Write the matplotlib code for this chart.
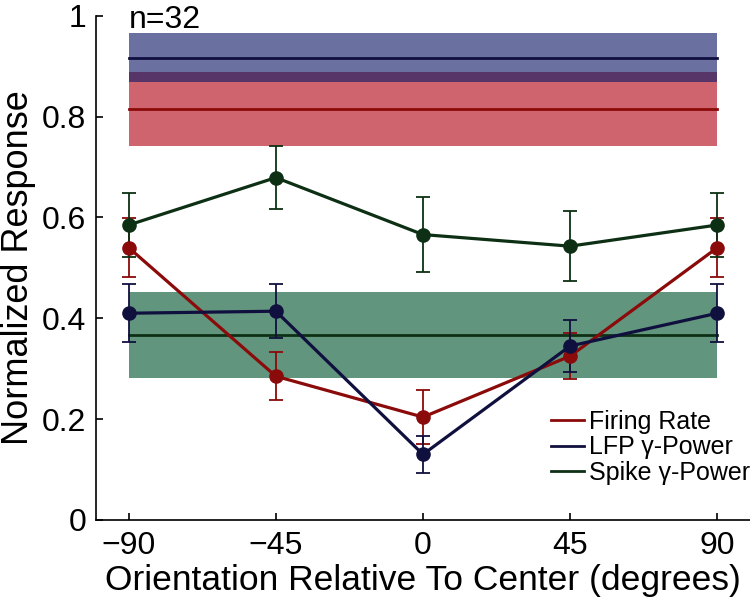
import matplotlib
matplotlib.use("Agg")
import matplotlib.pyplot as plt
import numpy as np

plt.rcParams['font.family'] = ['Liberation Sans', 'DejaVu Sans']

orientations = [-90, -45, 0, 45, 90]
firing_rate = [0.540, 0.285, 0.204, 0.325, 0.540]
firing_err = [0.058, 0.048, 0.053, 0.045, 0.058]
lfp_power = [0.410, 0.414, 0.130, 0.345, 0.410]
lfp_err = [0.058, 0.054, 0.037, 0.052, 0.058]
spike_power = [0.585, 0.679, 0.566, 0.543, 0.585]
spike_err = [0.064, 0.063, 0.074, 0.069, 0.064]

# center (reference) means and band half-widths
center_firing = 0.815
center_firing_err = 0.073
center_lfp = 0.917
center_lfp_err = 0.048
center_spike = 0.367
center_spike_err = 0.086

labels = ['Firing Rate', 'LFP \u03b3-Power', 'Spike \u03b3-Power']
line_colors = ['#8b0a0a', '#10103f', '#0d3014']
band_colors = ['#b30515', '#0e1866', '#02552d']

fig = plt.figure(figsize=(7.5, 6.06), dpi=100)
ax = fig.add_axes([0.128, 0.142, 0.872, 0.832])

xs = [orientations[0], orientations[-1]]
alpha = 0.62
# bands
ax.fill_between(xs, center_firing - center_firing_err, center_firing + center_firing_err,
                color=band_colors[0], alpha=alpha, lw=0, zorder=1)
ax.fill_between(xs, center_lfp - center_lfp_err, center_lfp + center_lfp_err,
                color=band_colors[1], alpha=alpha, lw=0, zorder=1)
ax.fill_between(xs, center_spike - center_spike_err, center_spike + center_spike_err,
                color=band_colors[2], alpha=alpha, lw=0, zorder=1)
ax.plot(xs, [center_firing] * 2, color=line_colors[0], lw=2.0, zorder=2)
ax.plot(xs, [center_lfp] * 2, color=line_colors[1], lw=2.0, zorder=2)
ax.plot(xs, [center_spike] * 2, color=line_colors[2], lw=2.0, zorder=2)

series = [(firing_rate, firing_err), (lfp_power, lfp_err), (spike_power, spike_err)]
handles = []
for (vals, errs), c, lab in zip(series, line_colors, labels):
    ax.errorbar(orientations, vals, yerr=errs, fmt='none', ecolor=c,
                elinewidth=1.3, capsize=5, capthick=1.3, zorder=3)
    ax.plot(orientations, vals, color=c, lw=2.3, marker='o', markersize=9.5,
            zorder=4)
    h, = ax.plot([], [], color=c, lw=2.0, label=lab)
    handles.append(h)

ax.set_xlim(-100, 100)
ax.set_ylim(0, 1)
ax.set_xticks(orientations)
ax.set_xticklabels(['\u221290', '\u221245', '0', '45', '90'])
ax.set_yticks([0, 0.2, 0.4, 0.6, 0.8, 1.0])
ax.set_yticklabels(['0', '0.2', '0.4', '0.6', '0.8', '1'])
ax.tick_params(direction='in', length=5, width=1.2, labelsize=23)
ax.tick_params(axis='y', pad=7)
ax.tick_params(axis='x', pad=8)
for s in ['top', 'right']:
    ax.spines[s].set_visible(False)
for s in ['left', 'bottom']:
    ax.spines[s].set_linewidth(1.2)

ax.set_xlabel('Orientation Relative To Center (degrees)', fontsize=25.5, labelpad=2)
ax.set_ylabel('Normalized Response', fontsize=26, labelpad=4)

ax.text(-90, 0.976, 'n=32', fontsize=23, ha='left', va='baseline')

ax.legend(handles=handles, loc='lower right', bbox_to_anchor=(1.0, 0.07),
          frameon=False, fontsize=18, handlelength=1.3, handletextpad=0.2,
          labelspacing=0.05, borderaxespad=0.0, borderpad=0.0)

fig.savefig('out.png', dpi=100)
